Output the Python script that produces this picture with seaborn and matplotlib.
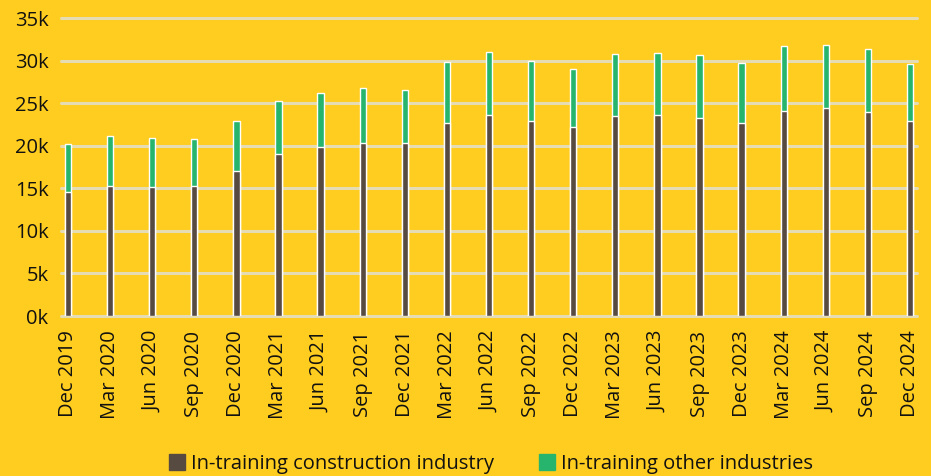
import matplotlib
matplotlib.use("Agg")
import matplotlib.pyplot as plt
import seaborn as sns
import pandas as pd
from matplotlib.lines import Line2D

quarters = ["Dec 2019", "Mar 2020", "Jun 2020", "Sep 2020", "Dec 2020", "Mar 2021",
            "Jun 2021", "Sep 2021", "Dec 2021", "Mar 2022", "Jun 2022", "Sep 2022",
            "Dec 2022", "Mar 2023", "Jun 2023", "Sep 2023", "Dec 2023", "Mar 2024",
            "Jun 2024", "Sep 2024", "Dec 2024"]
construction = [14600, 15300, 15200, 15300, 17050, 19000, 19800, 20300, 20300, 22650,
                23550, 22850, 22150, 23450, 23550, 23300, 22650, 24100, 24400, 24000, 22850]
other = [5600, 5800, 5700, 5500, 5900, 6300, 6400, 6450, 6300, 7200,
         7400, 7150, 6850, 7350, 7350, 7400, 7100, 7600, 7450, 7350, 6800]
series_names = ["In-training construction industry", "In-training other industries"]
y_ticks = [0, 5000, 10000, 15000, 20000, 25000, 30000, 35000]

BG = "#FFCD1F"
BROWN = "#574A41"
GREEN = "#27B56E"
GRID = "#E6DCB3"

df = pd.DataFrame({"quarter": quarters, "construction": construction,
                   "total": [c + o for c, o in zip(construction, other)]})

sns.set_theme(style="white")
plt.rcParams["font.family"] = ["Open Sans", "DejaVu Sans"]

W, H = 931, 476
fig = plt.figure(figsize=(W / 100, H / 100), dpi=100, facecolor=BG)
ax = fig.add_axes([61 / W, 1 - 316 / H, (917 - 61) / W, (316 - 18) / H])
ax.set_facecolor(BG)

sns.barplot(data=df, x="quarter", y="total", color=GREEN, width=0.15,
            saturation=1, ax=ax, zorder=3)
sns.barplot(data=df, x="quarter", y="construction", color=BROWN, width=0.15,
            saturation=1, ax=ax, zorder=4)

ax.set_xlim(-0.166, len(quarters) - 1 + 0.166)
ax.set_ylim(0, 35000)
ax.set_yticks(y_ticks)
ax.set_yticklabels([f"{int(v / 1000)}k" for v in y_ticks])
ax.yaxis.grid(True, color=GRID, linewidth=2.2)
for gl in ax.get_ygridlines():
    gl.set_clip_on(False)
ax.set_axisbelow(True)
for s in ax.spines.values():
    s.set_visible(False)
ax.set_xlabel("")
ax.set_ylabel("")
ax.tick_params(axis="y", length=0, pad=9, labelsize=14.5, labelcolor="#111111")
ax.tick_params(axis="x", length=6.5, width=2.2, color=GRID, pad=4, labelsize=14.5,
               labelcolor="#111111", rotation=90, direction="out")

handles = [Line2D([], [], marker="s", linestyle="", markersize=11, color=BROWN),
           Line2D([], [], marker="s", linestyle="", markersize=11, color=GREEN)]
fig.legend(handles, series_names, loc="center", bbox_to_anchor=(491 / W, 1 - 464 / H),
           ncol=2, frameon=False, fontsize=14.5, handlelength=0.8, handletextpad=0.3,
           columnspacing=2.2, labelcolor="#111111")

fig.savefig("out.png", dpi=100, facecolor=BG)
